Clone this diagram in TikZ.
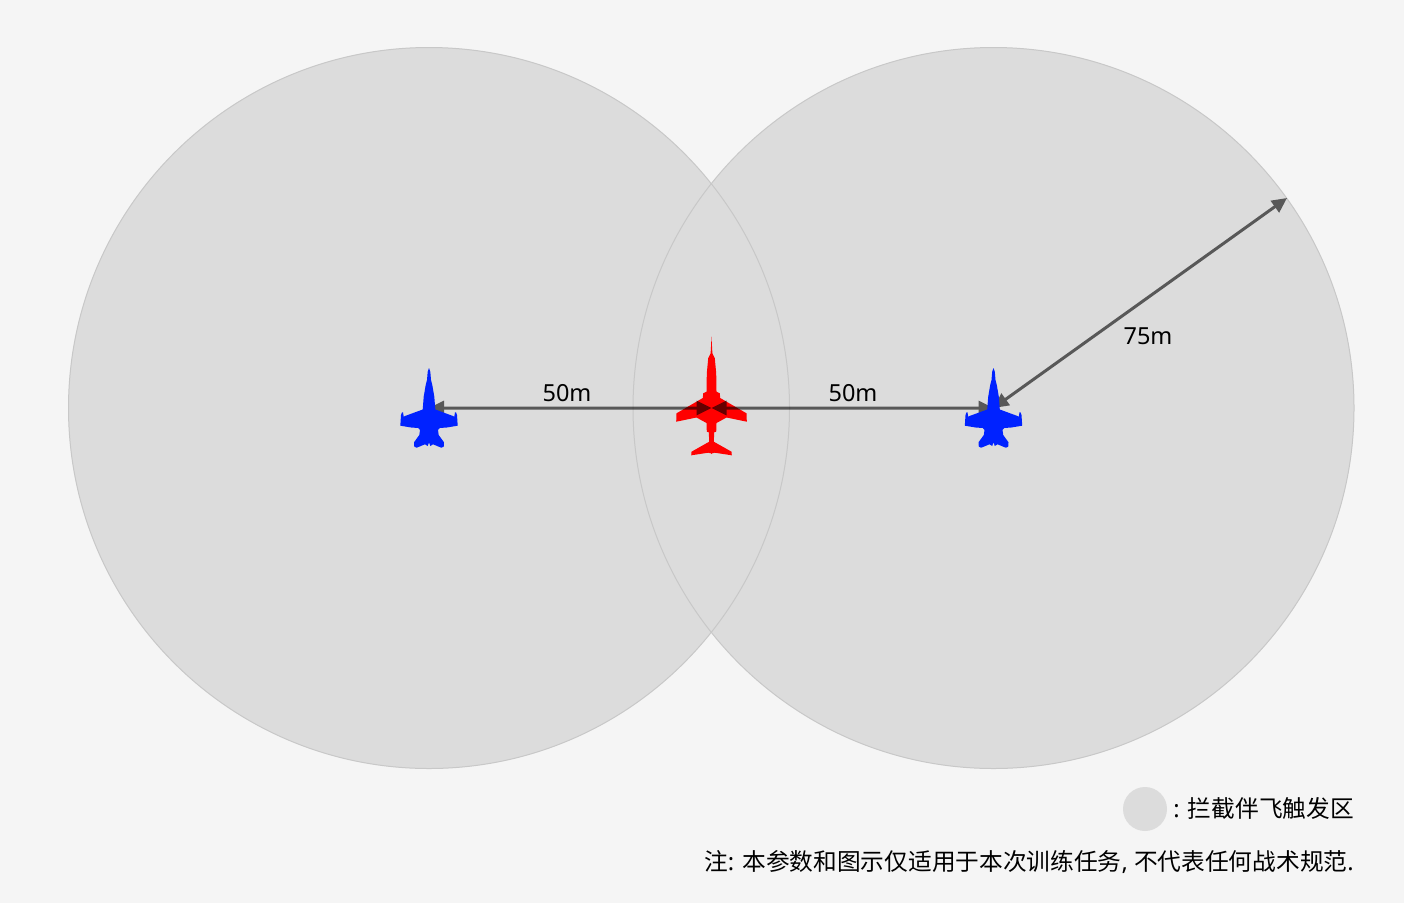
\documentclass[tikz,border=0pt]{standalone}
\usepackage{fontspec}
\setmainfont{Noto Sans}
\newfontfamily\cjk{Noto Sans CJK SC}
\usetikzlibrary{arrows.meta}
\definecolor{bgc}{HTML}{F5F5F5}
\definecolor{zone}{HTML}{DCDCDC}
\definecolor{zoneedge}{HTML}{C8C8C8}
\definecolor{jetblue}{HTML}{0022FF}
\tikzset{
  zonefill/.style={fill=zone,draw=none},
  zoneline/.style={draw=zoneedge,line width=1pt,fill=none},
  dimline/.style={line width=3pt,black,{Triangle[length=15pt,width=14pt]}-{Triangle[length=15pt,width=14pt]}},
  lbl/.style={inner sep=0pt,font=\fontsize{23.5}{24}\selectfont},
  note/.style={inner sep=0pt,anchor=base east,font=\fontsize{23.7}{24}\selectfont},
  pics/bluejet/.style={code={
    \fill[jetblue] (0,-40)--(1.3,-36.3)--(2,-28)--(3.3,-23)--(5.3,-11.3)--(6.3,1.5)--(24,8)--(25.3,8.7)--(26,4.3)--(27,4.3)--(28,7)--(28.7,17.7)--(17.7,19.5)--(10.7,20)--(9,22)--(9.7,27)--(15,34.3)--(14.7,38.7)--(12.3,39.7)--(4,36.3)--(1.3,38)--(0,34.3)
    --(-1.3,38)--(-4,36.3)--(-12.3,39.7)--(-14.7,38.7)--(-15,34.3)--(-9.7,27)--(-9,22)--(-10.7,20)--(-17.7,19.5)--(-28.7,17.7)--(-28,7)--(-27,4.3)--(-26,4.3)--(-25.3,8.7)--(-24,8)--(-6.3,1.5)--(-5.3,-11.3)--(-3.3,-23)--(-2,-28)--(-1.3,-36.3)--cycle;
  }},
  pics/redjet/.style={code={
    \fill[red] (0,-71.3)--(0.5,-61.3)--(0.9,-54.7)--(3.3,-49.7)--(4.7,-34.7)--(5,-16.3)--(8.3,-14.7)--(8.7,-10)--(35,5.3)--(35.3,13.7)--(15,9.5)--(5,15)--(4.7,23.7)--(2.7,24.3)--(2.3,33.7)--(20,43.7)--(20.3,47.3)--(3.3,44.7)--(0.7,45.3)--(0,46)
    --(-0.7,45.3)--(-3.3,44.7)--(-20.3,47.3)--(-20,43.7)--(-2.3,33.7)--(-2.7,24.3)--(-4.7,23.7)--(-5,15)--(-15,9.5)--(-35.3,13.7)--(-35,5.3)--(-8.7,-10)--(-8.3,-14.7)--(-5,-16.3)--(-4.7,-34.7)--(-3.3,-49.7)--(-0.9,-54.7)--(-0.5,-61.3)--cycle;
  }}
}
\begin{document}
\begin{tikzpicture}[x=1pt,y=-1pt]
\useasboundingbox (0,0) rectangle (1404,903);
\fill[bgc] (0,0) rectangle (1404,903);
\coordinate (L) at (429,408);
\coordinate (C) at (711.5,408);
\coordinate (R) at (993.5,408);
\coordinate (rim) at (1287,198);
\fill[zonefill] (L) circle[radius=360.5];
\fill[zonefill] (R) circle[radius=360.5];
\draw[zoneline] (L) circle[radius=360.5];
\draw[zoneline] (R) circle[radius=360.5];
\pic at (C) {redjet};
\begin{scope}[transparency group,opacity=.6]
\draw[dimline] (C) -- (L);
\end{scope}
\begin{scope}[transparency group,opacity=.6]
\draw[dimline] (C) -- (R);
\end{scope}
\begin{scope}[transparency group,opacity=.6]
\draw[dimline] (R) -- (rim);
\end{scope}
\pic at (L) {bluejet};
\pic at (R) {bluejet};
\node[lbl] (d1) at (567,393.5) {50m};
\node[lbl] (d2) at (853,393.5) {50m};
\node[lbl] (d3) at (1148,336.5) {75m};
\fill[zone] (1145,809) circle[radius=22];
\node[note] (leg) at (1354,817) {: {\cjk 拦截伴飞触发区}};
\node[note] (nt) at (1354,870) {{\cjk 注}: {\cjk 本参数和图示仅适用于本次训练任务}, {\cjk 不代表任何战术规范}.};
\end{tikzpicture}
\end{document}
